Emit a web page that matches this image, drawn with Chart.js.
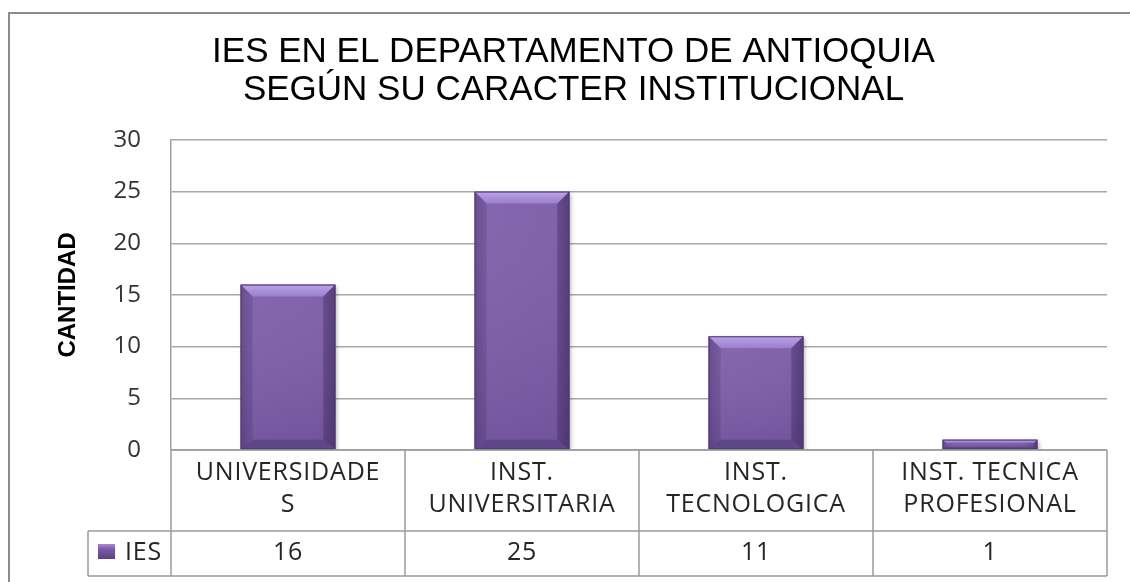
<!DOCTYPE html>
<html>
<head>
<meta charset="utf-8">
<script src="https://cdn.jsdelivr.net/npm/chart.js@4/dist/chart.umd.min.js"></script>
<style>
  html, body { margin: 0; padding: 0; background: #fff; overflow: hidden; }
  #wrap { position: relative; width: 1130px; height: 582px; }
  #frame { position: absolute; left: 8px; top: 12px; width: 1200px; height: 700px; border: 2px solid #8c8c8c; }
  canvas { position: absolute; left: 0; top: 0; }
</style>
</head>
<body>
<div id="wrap">
  <div id="frame"></div>
  <canvas id="chart" width="1130" height="582"></canvas>
</div>
<script>
// chart data
const chartTitle = ["IES EN EL DEPARTAMENTO DE ANTIOQUIA", "SEGÚN SU CARACTER INSTITUCIONAL"];
const categories = [
    ["UNIVERSIDADE", "S"],
    ["INST.", "UNIVERSITARIA"],
    ["INST.", "TECNOLOGICA"],
    ["INST. TECNICA", "PROFESIONAL"]
];
const seriesName = "IES";
const iesValues = [16, 25, 11, 1];
const yAxisTitle = "CANTIDAD";
const yMin = 0;
const yMax = 30;
const yStep = 5;

const tableFont = "25px 'Open Sans', sans-serif";
const lineColour = "#9a9a9a";
const barColour = "#7a5ba5";

// draws the bevel look on top of each bar
const bevelPlugin = {
    id: 'bevel',
    beforeDatasetsDraw(chart) {
        const ctx = chart.ctx;
        ctx.save();
        ctx.shadowColor = 'rgba(0,0,0,0.28)';
        ctx.shadowBlur = 4;
        ctx.shadowOffsetX = 2;
        ctx.shadowOffsetY = 2;
    },
    afterDatasetsDraw(chart) {
        const ctx = chart.ctx;
        ctx.restore();
        const meta = chart.getDatasetMeta(0);
        meta.data.forEach(bar => {
            const left = bar.x - bar.width / 2;
            const right = bar.x + bar.width / 2;
            const top = Math.min(bar.y, bar.base);
            const bottom = Math.max(bar.y, bar.base);
            const h = bottom - top;
            const b = Math.min(12, h / 3);
            ctx.save();
            // body gradient
            const g = ctx.createLinearGradient(left, 0, right, 0);
            g.addColorStop(0, '#6c4f96');
            g.addColorStop(0.12, '#7d5ea9');
            g.addColorStop(0.85, '#7a5ba6');
            g.addColorStop(1, '#5c4386');
            ctx.fillStyle = g;
            ctx.fillRect(left, top, right - left, h);
            const v = ctx.createLinearGradient(0, top, 0, bottom);
            v.addColorStop(0, 'rgba(255,255,255,0.05)');
            v.addColorStop(1, 'rgba(40,20,70,0.12)');
            ctx.fillStyle = v;
            ctx.fillRect(left, top, right - left, h);
            // top bevel
            ctx.beginPath();
            ctx.moveTo(left, top);
            ctx.lineTo(right, top);
            ctx.lineTo(right - b, top + b);
            ctx.lineTo(left + b, top + b);
            ctx.closePath();
            const tg = ctx.createLinearGradient(0, top, 0, top + b);
            tg.addColorStop(0, '#bca4ea');
            tg.addColorStop(1, '#9a7eca');
            ctx.fillStyle = tg;
            ctx.fill();
            // bottom bevel
            ctx.beginPath();
            ctx.moveTo(left, bottom);
            ctx.lineTo(right, bottom);
            ctx.lineTo(right - b, bottom - b * 0.8);
            ctx.lineTo(left + b, bottom - b * 0.8);
            ctx.closePath();
            ctx.fillStyle = '#5f4688';
            ctx.fill();
            // right bevel
            ctx.beginPath();
            ctx.moveTo(right, top);
            ctx.lineTo(right, bottom);
            ctx.lineTo(right - b, bottom - b * 0.8);
            ctx.lineTo(right - b, top + b);
            ctx.closePath();
            ctx.fillStyle = 'rgba(60,40,95,0.35)';
            ctx.fill();
            // left bevel
            ctx.beginPath();
            ctx.moveTo(left, top);
            ctx.lineTo(left, bottom);
            ctx.lineTo(left + b, bottom - b * 0.8);
            ctx.lineTo(left + b, top + b);
            ctx.closePath();
            ctx.fillStyle = 'rgba(60,40,95,0.18)';
            ctx.fill();
            ctx.strokeStyle = '#4e3a70';
            ctx.lineWidth = 1;
            ctx.strokeRect(left + 0.5, top + 0.5, right - left - 1, h - 1);
            ctx.restore();
        });
    }
};

// data table under the plot area
const tablePlugin = {
    id: 'dataTable',
    afterDraw(chart) {
        const ctx = chart.ctx;
        const xs = chart.scales.x;
        const area = chart.chartArea;
        const n = categories.length;
        const half = (xs.getPixelForValue(1) - xs.getPixelForValue(0)) / 2;
        const top = area.bottom;
        const mid = top + 81;
        const bottom = top + 126;
        const legendLeft = area.left - 83;

        ctx.save();
        ctx.strokeStyle = lineColour;
        ctx.lineWidth = 1.5;
        ctx.beginPath();
        ctx.moveTo(area.left, top); ctx.lineTo(area.right, top);
        ctx.moveTo(legendLeft, mid); ctx.lineTo(area.right, mid);
        ctx.moveTo(legendLeft, bottom); ctx.lineTo(area.right, bottom);
        ctx.moveTo(legendLeft, mid); ctx.lineTo(legendLeft, bottom);
        for (let i = 0; i <= n; i++) {
            const x = i < n ? xs.getPixelForValue(i) - half : xs.getPixelForValue(n - 1) + half;
            ctx.moveTo(x, top); ctx.lineTo(x, bottom);
        }
        ctx.stroke();

        ctx.fillStyle = '#262626';
        ctx.font = tableFont;
        ctx.letterSpacing = '0.8px';
        ctx.textAlign = 'center';
        ctx.textBaseline = 'middle';
        categories.forEach((lines, i) => {
            const cx = xs.getPixelForValue(i);
            lines.forEach((line, j) => {
                ctx.fillText(line, cx, top + 23 + j * 32);
            });
            ctx.fillText(String(iesValues[i]), cx, top + 103);
        });

        // legend key
        const kx = legendLeft + 10;
        const ky = top + 94;
        const kg = ctx.createLinearGradient(0, ky, 0, ky + 15);
        kg.addColorStop(0, '#a88ad6');
        kg.addColorStop(0.35, '#7a5ba5');
        kg.addColorStop(1, '#5a4282');
        ctx.fillStyle = kg;
        ctx.fillRect(kx, ky, 17, 15);
        ctx.fillStyle = '#262626';
        ctx.textAlign = 'left';
        ctx.fillText(seriesName, kx + 27, top + 103);
        ctx.restore();
    }
};

new Chart(document.getElementById('chart'), {
    type: 'bar',
    data: {
        labels: categories,
        datasets: [{
            label: seriesName,
            data: iesValues,
            backgroundColor: barColour,
            borderWidth: 0,
            categoryPercentage: 1,
            barPercentage: 0.405
        }]
    },
    options: {
        responsive: false,
        animation: false,
        layout: {
            padding: { left: 40, right: 23, top: 0, bottom: 132 }
        },
        plugins: {
            legend: { display: false },
            tooltip: { enabled: false },
            title: {
                display: true,
                text: chartTitle,
                color: '#000',
                font: { family: "'Liberation Sans', Arial, sans-serif", size: 35, weight: 'normal', lineHeight: 1.07 },
                padding: { top: 34, bottom: 31 }
            }
        },
        scales: {
            x: {
                display: false
            },
            y: {
                min: yMin,
                max: yMax,
                ticks: {
                    stepSize: yStep,
                    padding: 30,
                    color: '#333',
                    font: { family: "'Open Sans', sans-serif", size: 24 }
                },
                grid: {
                    color: '#a8a8a8',
                    lineWidth: 1.5,
                    drawTicks: false
                },
                border: { color: '#a0a0a0', width: 1.5 },
                title: {
                    display: true,
                    text: yAxisTitle,
                    color: '#000',
                    font: { family: "'Liberation Sans', Arial, sans-serif", size: 24, weight: 'bold' },
                    padding: { top: 14, bottom: 0 }
                },
                afterFit(scale) {
                    scale.width = 131;
                }
            }
        }
    },
    plugins: [bevelPlugin, tablePlugin]
});
</script>
</body>
</html>
